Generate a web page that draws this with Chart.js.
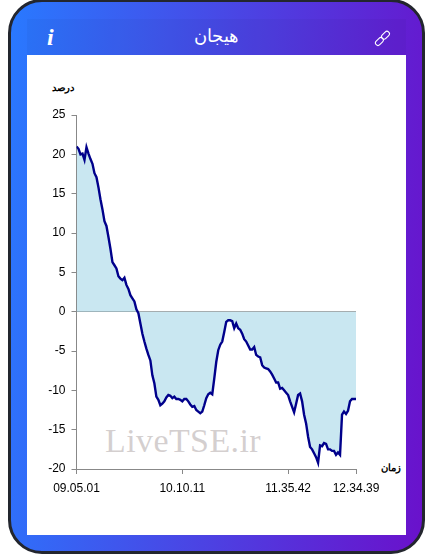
<!DOCTYPE html>
<html>
<head>
<meta charset="utf-8">
<script src="https://cdn.jsdelivr.net/npm/chart.js@4"></script>
<style>
html, body { margin: 0; padding: 0; background: #fff; }
body { width: 433px; height: 554px; position: relative; overflow: hidden; font-family: "Liberation Sans", sans-serif; }
#frame { position: absolute; left: 8px; top: -1px; width: 411px; height: 549px; border: 3px solid #23262e; border-radius: 34px; background: linear-gradient(95deg, #2979ff 0%, #4a45e4 50%, #6a11cb 100%); }
#band { position: absolute; left: 27px; top: 19px; width: 379px; height: 36px; background: rgba(0,0,0,0.03); }
#panel { position: absolute; left: 27px; top: 55px; width: 379px; height: 480px; background: #fff; }
#title { position: absolute; left: 0; width: 433px; top: 26px; text-align: center; color: #fff; font-size: 17.5px; line-height: 20px; }
#info { position: absolute; left: 47px; top: 23px; color: #fff; font: italic bold 24px "Liberation Serif", serif; line-height: 28px; }
#link { position: absolute; left: 374px; top: 30px; }
#wm { position: absolute; left: 105px; top: 420px; color: rgba(170,160,160,0.5); font: 34px "Liberation Serif", serif; line-height: 42px; letter-spacing: 0.4px; }
.ax { position: absolute; color: #000; font-size: 10px; font-weight: bold; line-height: 12px; }
#wrap { position: absolute; left: 0; top: 0; width: 433px; height: 554px; }
</style>
</head>
<body>
<div id="frame"></div>
<div id="band"></div>
<div id="panel"></div>
<div id="title" dir="rtl">هیجان</div>
<div id="info">i</div>
<svg id="link" width="17" height="17" viewBox="0 0 17 17" fill="none" stroke="#fff" stroke-width="1.1">
  <rect x="9" y="0.7" width="5" height="9" rx="2.5" transform="rotate(45 11.5 5.2)"/>
  <rect x="2.9" y="7" width="5" height="9" rx="2.5" transform="rotate(45 5.4 11.5)"/>
</svg>
<div id="wm">LiveTSE.ir</div>
<div class="ax" style="left:52px;top:82px" dir="rtl">درصد</div>
<div class="ax" style="left:381px;top:462px" dir="rtl">زمان</div>
<div id="wrap"><canvas id="hayajan" width="433" height="554"></canvas></div>
<script>
// x positions of the time labels, counted in samples
const tickSamples = [0, 53, 106, 140];
const tickLabels = ['09.05.01', '10.10.11', '11.35.42', '12.34.39'];

const emotion = [
  21.0, 20.7, 20.0, 20.1, 19.3, 20.9, 20.1, 19.4, 18.8, 17.6,
  17.1, 15.8, 14.3, 13.0, 11.5, 10.9, 9.5, 8.0, 6.3, 5.9,
  5.5, 4.5, 4.2, 4.0, 4.3, 3.4, 2.9, 2.1, 1.7, 1.3,
  0.3, -0.2, -1.5, -2.8, -3.8, -4.7, -5.5, -6.2, -8.1, -9.1,
  -10.8, -11.2, -11.9, -11.7, -11.4, -10.9, -10.6, -10.7, -11.0, -10.8,
  -11.1, -11.1, -11.2, -11.4, -11.1, -11.1, -11.4, -11.8, -12.1, -12.0,
  -12.5, -12.7, -12.9, -12.7, -11.9, -11.0, -10.5, -10.3, -10.5, -8.5,
  -6.4, -4.9, -4.2, -3.8, -2.6, -1.3, -1.1, -1.1, -1.2, -2.1,
  -1.5, -2.1, -2.3, -2.8, -3.5, -3.8, -4.3, -4.8, -4.8, -4.5,
  -5.5, -5.7, -5.8, -6.8, -7.1, -7.2, -7.3, -7.6, -8.0, -8.5,
  -9.0, -9.0, -9.8, -9.7, -10.0, -10.3, -10.6, -11.4, -12.1, -12.8,
  -11.7, -10.6, -10.4, -11.4, -13.1, -14.2, -15.9, -17.2, -17.5, -18.0,
  -18.5, -19.2, -17.0, -17.1, -16.7, -16.8, -17.5, -17.5, -17.7, -17.7,
  -18.2, -17.9, -18.2, -13.1, -12.7, -13.0, -12.6, -11.4, -11.1, -11.1,
  -11.1
];

const ctx = document.getElementById('hayajan').getContext('2d');
const chart = new Chart(ctx, {
  type: 'line',
  data: {
    datasets: [
      {
        data: emotion.map((v, i) => ({ x: i, y: v })),
        borderColor: '#00008b',
        backgroundColor: 'rgba(140, 203, 226, 0.47)',
        borderWidth: 2.4,
        pointRadius: 0,
        tension: 0,
        fill: 'origin'
      }
    ]
  },
  options: {
    responsive: false,
    animation: false,
    layout: { padding: { left: 0, right: 77, top: 115, bottom: 0 } },
    scales: {
      x: {
        type: 'linear',
        min: 0,
        max: 140,
        afterBuildTicks: (axis) => { axis.ticks = tickSamples.map(v => ({ value: v })); },
        afterFit: (axis) => { axis.height = 85; },
        ticks: {
          color: '#000',
          font: { family: 'Liberation Sans', size: 12 },
          autoSkip: false,
          maxRotation: 0,
          padding: 7,
          callback: (v) => tickLabels[tickSamples.indexOf(v)]
        },
        border: { color: '#888' },
        grid: { color: 'transparent', tickColor: '#888', tickLength: 5 }
      },
      y: {
        min: -20,
        max: 25,
        afterFit: (axis) => { axis.width = 76.5; },
        ticks: {
          stepSize: 5,
          color: '#000',
          font: { family: 'Liberation Sans', size: 12 },
          padding: 6
        },
        border: { color: '#888' },
        grid: {
          color: (c) => (c.tick.value === 0 ? '#a9a9a9' : 'transparent'),
          tickColor: '#888',
          tickLength: 5
        }
      }
    },
    plugins: {
      legend: { display: false },
      tooltip: { enabled: false }
    }
  }
});
</script>
</body>
</html>
